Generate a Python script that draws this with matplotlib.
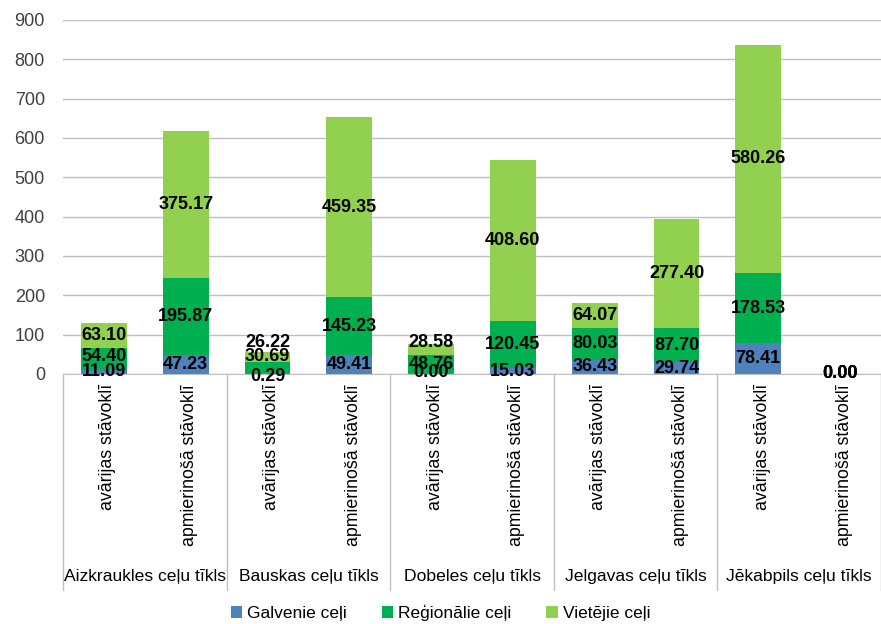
import matplotlib
matplotlib.use("Agg")
import matplotlib.pyplot as plt
from matplotlib.lines import Line2D
from matplotlib.patches import Patch
import matplotlib.transforms as mtransforms

plt.rcParams['font.family'] = ['Liberation Sans', 'DejaVu Sans']

groups = ["Aizkraukles ceļu tīkls", "Bauskas ceļu tīkls", "Dobeles ceļu tīkls",
          "Jelgavas ceļu tīkls", "Jēkabpils ceļu tīkls"]
states = ["avārijas stāvoklī", "apmierinošā stāvoklī"]
series_names = ["Galvenie ceļi", "Reģionālie ceļi", "Vietējie ceļi"]
galvenie = [11.09, 47.23, 0.29, 49.41, 0.00, 15.03, 36.43, 29.74, 78.41, 0.00]
regionalie = [54.40, 195.87, 30.69, 145.23, 48.76, 120.45, 80.03, 87.70, 178.53, 0.00]
vietejie = [63.10, 375.17, 26.22, 459.35, 28.58, 408.60, 64.07, 277.40, 580.26, 0.00]
colors = ["#4F81BD", "#00B050", "#92D050"]
yticks = [0, 100, 200, 300, 400, 500, 600, 700, 800, 900]

# small label nudges (in points, upward) where labels were pushed apart
label_nudge = {(2, 0): -1.5, (2, 1): 8, (2, 2): 10, (4, 0): 1, (4, 2): 5, (0, 1): 2}

W, H = 881, 624
fig = plt.figure(figsize=(W / 100, H / 100), dpi=100)
left_px, right_px, top_px, bottom_px = 63, 881, 20, 374
ax = fig.add_axes([left_px / W, 1 - bottom_px / H, (right_px - left_px) / W, (bottom_px - top_px) / H])

n = len(galvenie)
x = list(range(n))
series = [galvenie, regionalie, vietejie]
bottoms = [0.0] * n
for s_idx, (vals, col, name) in enumerate(zip(series, colors, series_names)):
    ax.bar(x, vals, width=0.56, bottom=bottoms, color=col, label=name, zorder=2)
    for i, v in enumerate(vals):
        ax.annotate(f"{v:.2f}", xy=(i, bottoms[i] + v / 2),
                    xytext=(0, label_nudge.get((i, s_idx), 0)), textcoords="offset points",
                    ha="center", va="center", fontsize=13, fontweight="bold",
                    color="black", zorder=4)
    bottoms = [b + v for b, v in zip(bottoms, vals)]

ax.set_xlim(-0.5, n - 0.5)
ax.set_ylim(0, 900)
ax.set_yticks(yticks)
ax.tick_params(axis="y", length=0, pad=13, labelsize=13, colors="#404040")
ax.yaxis.grid(True, color="#BFBFBF", linewidth=1, zorder=0)
ax.set_axisbelow(True)
for s in ["left", "right", "top"]:
    ax.spines[s].set_visible(False)
ax.spines["bottom"].set_color("#BFBFBF")
ax.set_xticks([])

trans = mtransforms.blended_transform_factory(ax.transData, fig.transFigure)
for i in range(n):
    ax.text(i + 0.05, 1 - 384 / H, states[i % 2], rotation=90, ha="center", va="top",
            fontsize=12.8, color="black", transform=trans, clip_on=False)

for g, name in enumerate(groups):
    ax.text(2 * g + 0.5, 1 - 577 / H, name, ha="center", va="center",
            fontsize=12.6, color="black", transform=trans, clip_on=False)

for g in range(n // 2 + 1):
    xs = 2 * g - 0.5
    ax.add_line(Line2D([xs, xs], [1 - bottom_px / H, 1 - 590 / H], transform=trans,
                       color="#BFBFBF", linewidth=1, clip_on=False))

handles = [Patch(facecolor=c, edgecolor="none") for c in colors]
fig.legend(handles, series_names, loc="center", bbox_to_anchor=(0.5, 1 - 613 / H),
           ncol=3, frameon=False, fontsize=12.5, handlelength=0.65, handleheight=0.65,
           handletextpad=0.3, columnspacing=2.0)

fig.savefig("out.png", dpi=100)
